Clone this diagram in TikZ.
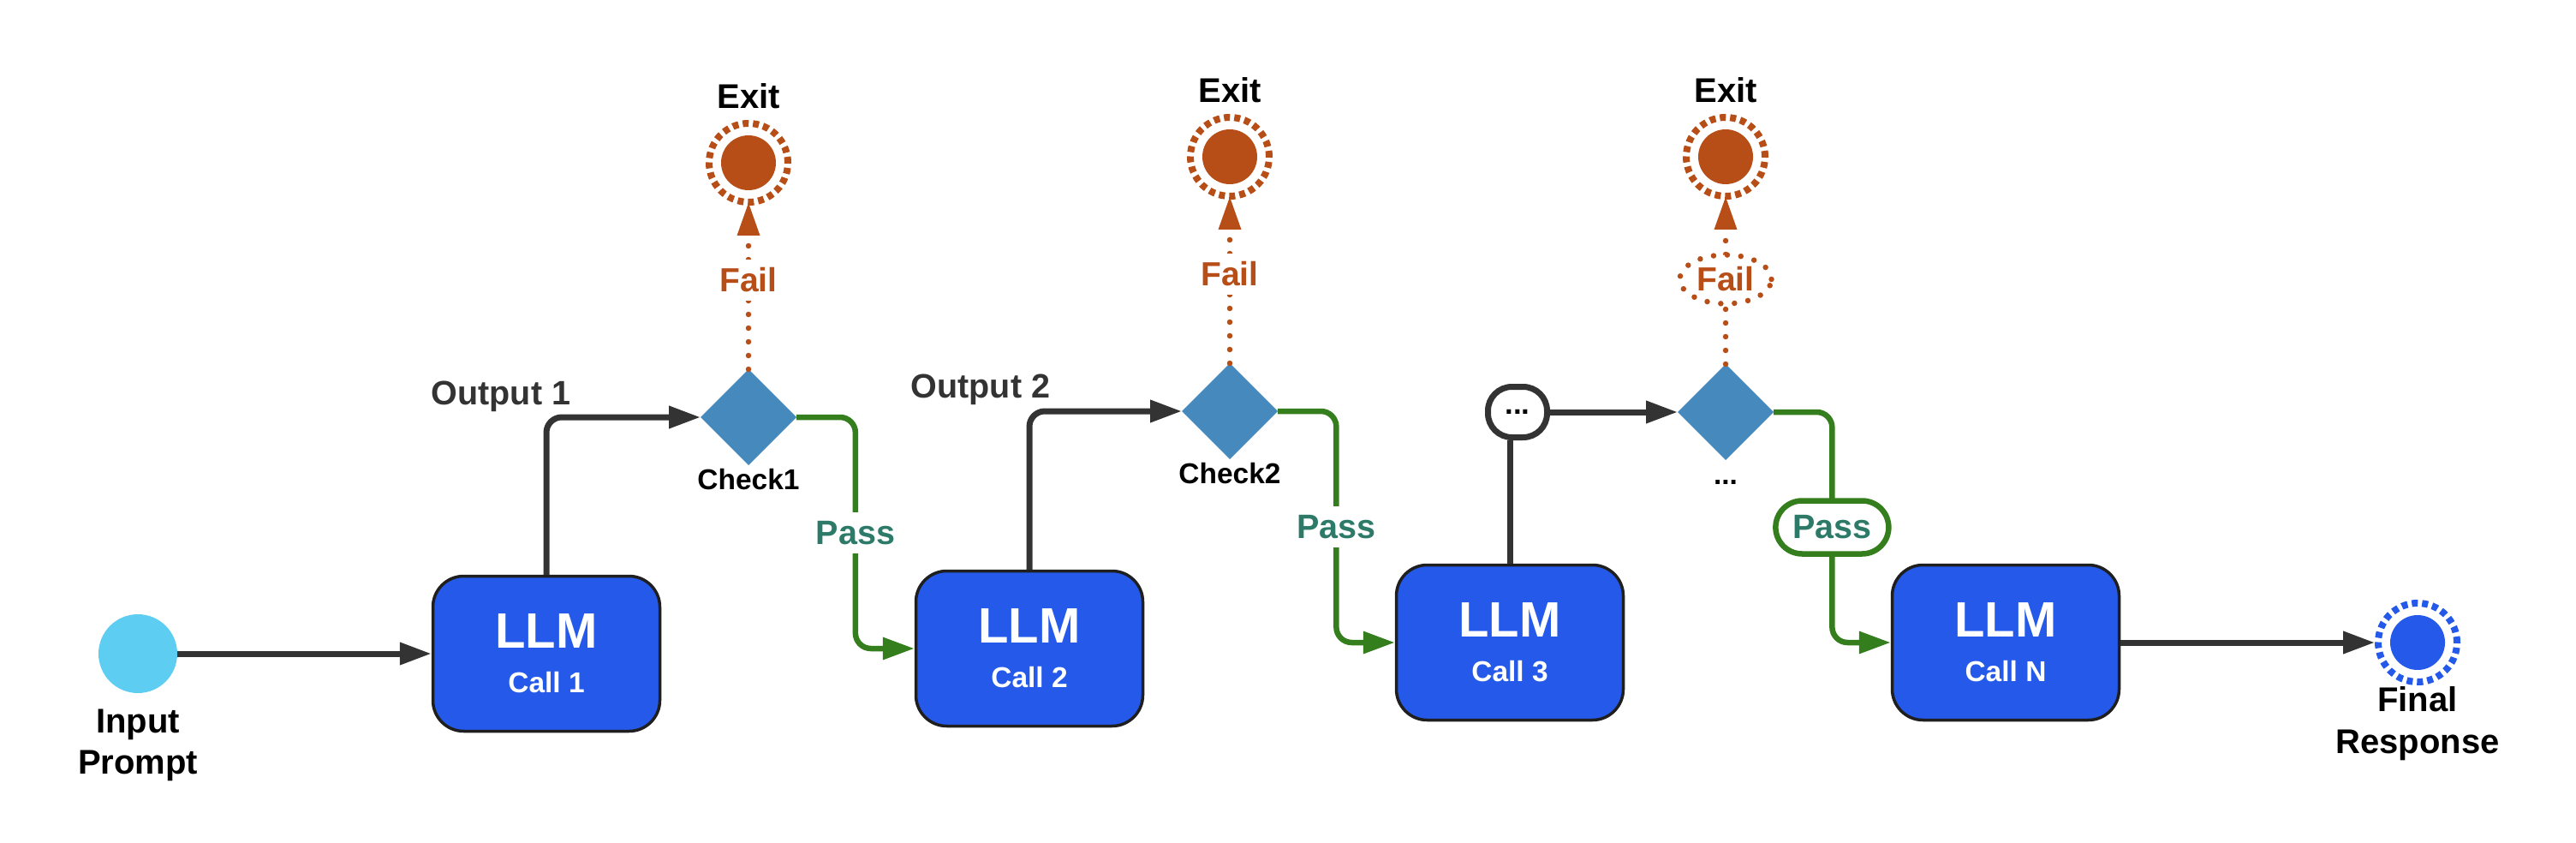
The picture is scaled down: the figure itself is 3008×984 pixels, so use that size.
\documentclass[tikz,border=0pt]{standalone}
\usepackage{fontspec}
\setmainfont{Liberation Sans}
\usetikzlibrary{arrows.meta, calc, positioning, shapes.geometric}

\definecolor{llmblue}{HTML}{2459EA}
\definecolor{inputcyan}{HTML}{5DCDF2}
\definecolor{checkblue}{HTML}{4689BD}
\definecolor{failorange}{HTML}{B84E17}
\definecolor{passgreen}{HTML}{357E1D}
\definecolor{passteal}{HTML}{2D7A68}
\definecolor{linegray}{HTML}{333333}

\begin{document}
\begin{tikzpicture}[
  x=1pt, y=-1pt,
  font=\bfseries,
  llm/.style={draw=black!88, fill=llmblue, line width=3.5pt, rounded corners=36pt,
    minimum width=265pt, minimum height=181pt, text=white, align=center,
    font=\bfseries\fontsize{58}{58}\selectfont},
  checknode/.style={diamond, fill=checkblue, minimum width=112pt, minimum height=112pt,
    inner sep=0pt, outer sep=0pt},
  ring/.style={circle, minimum size=92pt, inner sep=0pt, line width=8pt, draw=#1,
    dash pattern=on 7pt off 5pt,
    path picture={\fill[#1] (path picture bounding box.center) circle (32pt);}},
  dotsbox/.style={draw=linegray, line width=7pt, rounded corners=28pt, minimum width=69pt,
    minimum height=59pt, inner sep=0pt, font=\bfseries\fontsize{35}{35}\selectfont},
  plain/.style={inner sep=0pt, align=center, font=\bfseries\fontsize{40}{48}\selectfont},
  chklbl/.style={plain, anchor=base, font=\bfseries\fontsize{33.5}{33.5}\selectfont},
  exitlbl/.style={plain, anchor=base, font=\bfseries\fontsize{40}{40}\selectfont},
  outlbl/.style={plain, anchor=base, text=linegray, font=\bfseries\fontsize{39.5}{39.5}\selectfont},
  passlbl/.style={fill=white, text=passteal, inner sep=10pt, font=\bfseries\fontsize{39.5}{39.5}\selectfont},
  passpill/.style={passlbl, draw=passgreen, line width=6.5pt, rounded corners=31pt,
    minimum width=132pt, minimum height=62pt, inner sep=0pt},
  faillbl/.style={fill=white, text=failorange, inner sep=10pt, font=\bfseries\fontsize{39}{39}\selectfont},
  failoval/.style={faillbl, ellipse, draw=failorange, line width=6.5pt, dash pattern=on 0pt off 16pt,
    line cap=round, minimum width=107pt, minimum height=57pt, inner sep=0pt},
  flow/.style={draw=linegray, line width=7pt, rounded corners=18pt, -{Triangle[length=37pt, width=25pt]}},
  passline/.style={draw=passgreen, line width=6.5pt, rounded corners=18pt, -{Triangle[length=37pt, width=25pt]}},
  failline/.style={draw=failorange, line width=6.5pt, dash pattern=on 0pt off 16pt, line cap=round,
    shorten >=-4pt, -{Triangle[length=39pt, width=25pt]}}]

  \useasboundingbox (0,0) rectangle (3008,984);

  % Input and final response
  \node[circle, fill=inputcyan, minimum size=92pt, inner sep=0pt] (inp) at (161,763) {};
  \node[plain] (inplbl) at (161,870) {Input\\Prompt};
  \node[ring=llmblue] (final) at (2823,750) {};
  \node[plain, font=\bfseries\fontsize{40}{49}\selectfont] (finallbl) at (2823,845) {Final\\Response};

  % LLM calls
  \node[llm] (box1) at (638,763) {LLM\\[-6pt]{\fontsize{33.5}{33.5}\selectfont Call 1}};
  \node[llm] (box2) at (1202,757) {LLM\\[-6pt]{\fontsize{33.5}{33.5}\selectfont Call 2}};
  \node[llm] (box3) at (1763,750) {LLM\\[-6pt]{\fontsize{33.5}{33.5}\selectfont Call 3}};
  \node[llm] (boxN) at (2342,750) {LLM\\[-6pt]{\fontsize{33.5}{33.5}\selectfont Call N}};

  % Checks and exits
  \node[checknode] (chk1) at (874,487) {};
  \node[checknode] (chk2) at (1436,480) {};
  \node[checknode] (chk3) at (2015,481) {};
  \node[chklbl] (chk1lbl) at ([yshift=-84pt]chk1.center) {Check1};
  \node[chklbl] (chk2lbl) at ([yshift=-84pt]chk2.center) {Check2};
  \node[chklbl] (chk3lbl) at ([yshift=-84pt]chk3.center) {...};

  \node[ring=failorange] (exit1) at (874,190) {};
  \node[ring=failorange] (exit2) at (1436,183) {};
  \node[ring=failorange] (exit3) at (2015,183) {};
  \node[exitlbl] (exit1lbl) at ([yshift=63pt]exit1.center) {Exit};
  \node[exitlbl] (exit2lbl) at ([yshift=63pt]exit2.center) {Exit};
  \node[exitlbl] (exit3lbl) at ([yshift=63pt]exit3.center) {Exit};

  \node[dotsbox] (dots) at (1772,481) {...};

  % Outputs
  \draw[flow] (inp) -- (box1);
  \draw[flow] (box1.north) |- (chk1.west);
  \draw[flow] (box2.north) |- (chk2.west);
  \draw[draw=linegray, line width=7pt] (box3.north) -- (box3.north |- dots.south);
  \draw[flow] (dots) -- (chk3);
  \draw[flow] (boxN) -- (final);
  \node[outlbl] (out1) at (585,472) {Output 1};
  \node[outlbl] (out2) at (1145,464) {Output 2};

  % Fail: dotted up to the exits
  \draw[failline] (chk1.north) -- (exit1.south);
  \draw[failline] (chk2.north) -- (exit2.south);
  \draw[failline] (chk3.north) -- (exit3.south);
  \node[faillbl] (fail1) at (874,327) {Fail};
  \node[faillbl] (fail2) at (1436,320) {Fail};
  \node[failoval] (fail3) at (2015,326) {Fail};

  % Pass: on to the next call
  \coordinate (pm1) at ($(chk1.east)!.5!(box2.west)$);
  \coordinate (pm2) at ($(chk2.east)!.5!(box3.west)$);
  \coordinate (pm3) at ($(chk3.east)!.5!(boxN.west)$);
  \draw[passline] (chk1.east) -| (pm1) |- (box2.west);
  \draw[passline] (chk2.east) -| (pm2) |- (box3.west);
  \draw[passline] (chk3.east) -| (pm3) |- (boxN.west);
  \node[passlbl] (pass1) at (pm1) {Pass};
  \node[passlbl] (pass2) at (pm2) {Pass};
  \node[passpill] (pass3) at (pm3) {Pass};

\end{tikzpicture}
\end{document}
